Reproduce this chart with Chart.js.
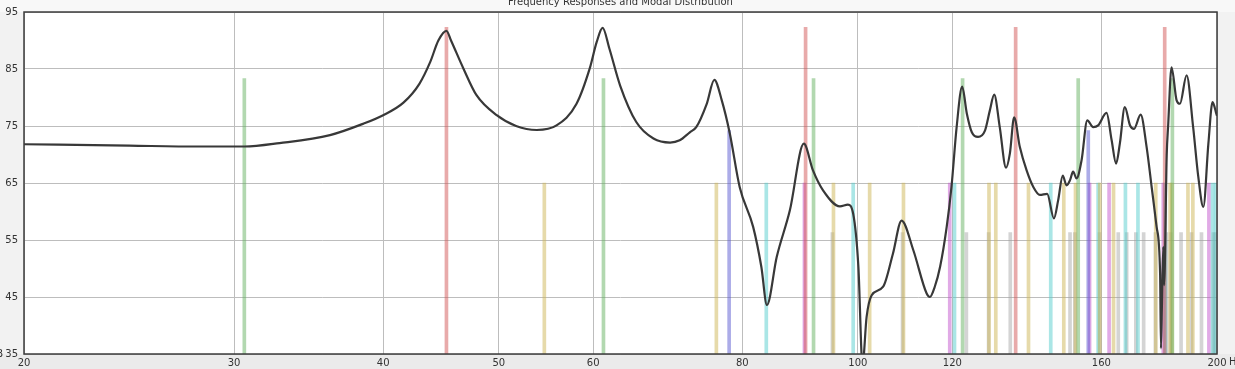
<!DOCTYPE html>
<html>
<head>
<meta charset="utf-8">
<script src="https://cdn.jsdelivr.net/npm/chart.js@4.4.0/dist/chart.umd.min.js"></script>
<style>
  html, body { margin: 0; padding: 0; background: #f2f2f2; }
  #wrap { width: 1235px; height: 369px; }
</style>
</head>
<body>
<div id="wrap"><canvas id="modalChart"></canvas></div>
<script>
const xTicks = [20, 30, 40, 50, 60, 80, 100, 120, 160, 200];
const yTicks = [35, 45, 55, 65, 75, 85, 95];

// modal frequencies (Hz), grouped by bar colour
const axialL = [45.2, 90.4, 135.6, 180.8];
const axialW = [30.6, 61.2, 91.8, 122.4, 153.0, 183.5];
const axialH = [78.0, 156.0];
const tangLW = [54.6, 76.1, 95.4, 102.3, 109.2, 128.8, 130.5, 139.0, 148.8, 152.2, 159.5, 163.8, 177.7, 182.7, 183.4, 189.1, 190.9];
const tangWH = [83.8, 99.1, 120.5, 145.1, 159.0, 167.6, 171.7, 181.0, 198.3, 199.5];
const tangLH = [90.2, 119.4, 156.4, 162.4, 180.3, 196.9];
const oblique = [95.2, 109.0, 123.3, 128.7, 134.2, 150.6, 152.0, 159.4, 165.3, 168.0, 171.0, 173.6, 177.6, 181.4, 182.9, 186.6, 190.4, 194.1, 198.6, 199.3];

// bar heights (dB) per mode type
const levelL = 92.3, levelW = 83.3, levelH = 74.2, levelTang = 65.0, levelObl = 56.3;

// frequency response curve
const respHz = [20, 24.5, 28, 30.6, 32.75, 36.1, 38.5, 40.0, 41.6, 42.9, 43.8, 44.5, 45.2, 45.6, 46.7, 47.9, 49.8, 51.7, 53.8, 55.9,
  58.1, 59.6, 60.4, 61.1, 61.9, 63.2, 65.2, 67.4, 69.6, 70.9, 72.3, 73.2, 74.7, 75.8, 76.9, 78.1, 79.6, 81.7, 83.0, 83.9,
  85.5, 87.7, 90.1, 91.7, 93.5, 96.6, 98.1, 99.1, 100.1, 100.9, 101.7, 102.7, 105.0, 107.0, 108.8, 111.3, 114.2, 114.9, 116.0, 117.2,
  118.7, 119.8, 121.0, 122.3, 123.4, 124.6, 126.1, 127.8, 129.0, 130.1, 131.5, 133.1, 134.1, 135.2, 136.7, 138.5, 140.3, 142.1, 144.1, 146.0,
  147.2, 148.5, 149.6, 150.6, 151.5, 152.5, 154.0, 155.7, 157.5, 159.0, 161.6, 163.2, 164.6, 165.8, 167.4, 169.1, 170.4, 172.6, 174.6, 176.3,
  178.0, 179.2, 179.5, 179.9, 180.3, 180.6, 181.5, 182.0, 183.2, 185.0, 186.2, 188.6, 191.0, 192.9, 194.8, 196.7, 198.3, 199.9, 200];
const respDb = [71.8, 71.55, 71.4, 71.4, 72.0, 73.4, 75.4, 76.9, 79.1, 82.4, 86.2, 90.0, 91.7, 90.0, 85.1, 80.4, 76.9, 75.0, 74.3, 75.1,
  78.9, 85.1, 89.7, 92.2, 88.6, 82.1, 75.7, 72.8, 72.1, 72.5, 73.9, 74.8, 78.9, 83.1, 79.5, 73.7, 64.3, 57.3, 50.3, 43.6,
  52.0, 60.2, 71.9, 67.2, 63.7, 60.9, 61.2, 59.6, 50.3, 33.0, 41.5, 45.3, 46.8, 52.6, 58.4, 53.2, 45.6, 45.0, 46.8, 50.3,
  57.3, 64.3, 74.8, 81.9, 77.2, 73.9, 73.1, 74.2, 77.7, 80.5, 74.8, 67.7, 70.2, 76.5, 71.3, 67.2, 64.3, 62.9, 63.1, 58.8,
  62.0, 66.3, 64.6, 65.5, 67.0, 65.8, 69.0, 76.0, 74.8, 75.1, 77.3, 72.5, 68.4, 71.9, 78.3, 75.1, 74.5, 77.0, 71.3, 64.3,
  57.3, 49.1, 36.0, 45.3, 53.8, 47.1, 69.9, 75.0, 85.3, 79.5, 78.9, 83.9, 74.8, 66.1, 60.8, 71.9, 79.2, 76.9, 76.8];

const FONT = { family: 'DejaVu Sans', size: 10 };

function modeBars(freqs, level, color) {
    return {
        type: 'bar',
        data: freqs.map(f => ({ x: f, y: level })),
        backgroundColor: color,
        barThickness: 3,
        grouped: false,
        order: 2
    };
}

const framePlugin = {
    id: 'frame',
    beforeDraw(chart) {
        const { ctx, chartArea: a, width, height } = chart;
        ctx.save();
        ctx.fillStyle = '#f2f2f2';
        ctx.fillRect(0, 0, width, height);
        ctx.fillStyle = '#f8f8f8';
        ctx.fillRect(0, 0, width, a.top);
        ctx.fillStyle = '#ebebeb';
        ctx.fillRect(0, a.bottom, width, height - a.bottom);
        ctx.fillStyle = '#ffffff';
        ctx.fillRect(a.left, a.top, a.right - a.left, a.bottom - a.top);
        ctx.restore();
    },
    afterDraw(chart) {
        const { ctx, chartArea: a } = chart;
        ctx.save();
        ctx.strokeStyle = '#3c3c3c';
        ctx.lineWidth = 1.5;
        ctx.strokeRect(a.left, a.top, a.right - a.left, a.bottom - a.top);
        ctx.fillStyle = '#333';
        ctx.font = '10px "DejaVu Sans"';
        ctx.textAlign = 'center';
        ctx.textBaseline = 'alphabetic';
        ctx.fillText('Frequency Responses and Modal Distribution', (a.left + a.right) / 2, 5);
        ctx.textBaseline = 'middle';
        ctx.textAlign = 'right';
        ctx.fillText('dB', 3, a.bottom);
        ctx.textAlign = 'left';
        ctx.textBaseline = 'top';
        ctx.fillText('Hz', 1229, 357);
        ctx.restore();
    }
};

const ctx = document.getElementById('modalChart').getContext('2d');
new Chart(ctx, {
    type: 'bar',
    data: {
        datasets: [{
            type: 'line',
            label: 'Response',
            data: respHz.map((f, i) => ({ x: f, y: respDb[i] })),
            borderColor: '#383838',
            borderWidth: 2.2,
            pointRadius: 0,
            cubicInterpolationMode: 'monotone',
            order: 0
        },
            modeBars(axialL, levelL, 'rgba(209, 85, 85, 0.5)'),
            modeBars(axialW, levelW, 'rgba(101, 177, 97, 0.5)'),
            modeBars(axialH, levelH, 'rgba(89, 89, 209, 0.5)'),
            modeBars(tangLW, levelTang, 'rgba(205, 181, 85, 0.5)'),
            modeBars(tangWH, levelTang, 'rgba(85, 205, 205, 0.5)'),
            modeBars(tangLH, levelTang, 'rgba(195, 85, 205, 0.5)'),
            modeBars(oblique, levelObl, 'rgba(160, 160, 160, 0.45)')
        ]
    },
    options: {
        responsive: true,
        maintainAspectRatio: false,
        animation: false,
        layout: { padding: { top: 11, right: 18, left: 0, bottom: 0 } },
        plugins: {
            legend: { display: false },
            tooltip: { enabled: false },
            title: { display: false }
        },
        scales: {
            x: {
                type: 'logarithmic',
                min: 20,
                max: 200,
                offset: false,
                afterBuildTicks: scale => { scale.ticks = xTicks.map(v => ({ value: v })); },
                afterFit: scale => { scale.height = 15; },
                grid: { color: '#bdbdbd', lineWidth: 1, drawTicks: false, offset: false },
                border: { display: false },
                ticks: {
                    autoSkip: false,
                    maxRotation: 0,
                    padding: 3,
                    color: '#333',
                    font: FONT,
                    callback: v => String(v)
                }
            },
            y: {
                type: 'linear',
                min: 35,
                max: 95,
                afterBuildTicks: scale => { scale.ticks = yTicks.map(v => ({ value: v })); },
                afterFit: scale => { scale.width = 24; },
                grid: { color: '#bdbdbd', lineWidth: 1, drawTicks: false },
                border: { display: false },
                ticks: {
                    padding: 6,
                    color: '#333',
                    font: FONT
                }
            }
        }
    },
    plugins: [framePlugin]
});
</script>
</body>
</html>
